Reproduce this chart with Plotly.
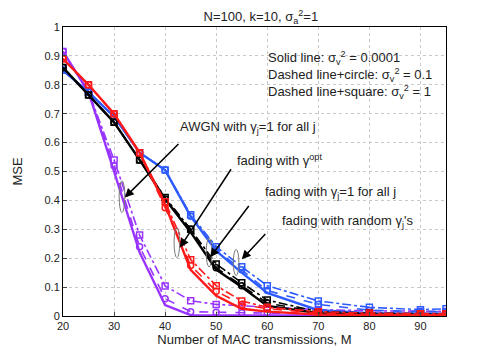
import plotly.graph_objects as go

# Number of MAC transmissions
M = [20, 25, 30, 35, 40, 45, 50, 55, 60, 70, 80, 90, 95]

# AWGN with gamma_j = 1 (purple)
awgn_solid = [0.915, 0.775, 0.50, 0.22, 0.038, 0.003, 0.002, 0.002, 0.002, 0.002, 0.002, 0.002, 0.002]
awgn_circle = [0.915, 0.775, 0.52, 0.24, 0.06, 0.015, 0.013, 0.011, 0.01, 0.008, 0.007, 0.007, 0.007]
awgn_square = [0.915, 0.775, 0.54, 0.28, 0.104, 0.053, 0.04, 0.035, 0.03, 0.022, 0.018, 0.016, 0.016]

# fading with gamma opt (red)
opt_solid = [0.89, 0.80, 0.70, 0.565, 0.385, 0.16, 0.07, 0.025, 0.015, 0.005, 0.003, 0.003, 0.003]
opt_circle = [0.89, 0.80, 0.70, 0.565, 0.375, 0.175, 0.086, 0.04, 0.025, 0.01, 0.006, 0.005, 0.005]
opt_square = [0.89, 0.80, 0.70, 0.565, 0.395, 0.195, 0.105, 0.052, 0.03, 0.015, 0.01, 0.008, 0.008]

# fading with gamma_j = 1 (black)
one_solid = [0.86, 0.765, 0.67, 0.54, 0.405, 0.29, 0.16, 0.10, 0.035, 0.01, 0.005, 0.004, 0.004]
one_circle = [0.86, 0.765, 0.67, 0.54, 0.405, 0.30, 0.167, 0.105, 0.045, 0.012, 0.008, 0.006, 0.006]
one_square = [0.86, 0.765, 0.67, 0.54, 0.41, 0.30, 0.18, 0.115, 0.055, 0.015, 0.01, 0.008, 0.008]

# fading with random gammas (blue)
rnd_solid = [0.85, 0.775, 0.69, 0.565, 0.505, 0.345, 0.225, 0.15, 0.08, 0.02, 0.01, 0.008, 0.008]
rnd_circle = [0.85, 0.775, 0.69, 0.565, 0.505, 0.345, 0.23, 0.16, 0.088, 0.04, 0.02, 0.015, 0.015]
rnd_square = [0.85, 0.775, 0.69, 0.565, 0.505, 0.35, 0.24, 0.17, 0.105, 0.052, 0.03, 0.022, 0.025]

colors = {"awgn": "#9933FF", "opt": "#FF1A1A", "one": "#000000", "rnd": "#2E5BFF"}

series = [
    ("awgn", awgn_solid, awgn_circle, awgn_square),
    ("rnd", rnd_solid, rnd_circle, rnd_square),
    ("one", one_solid, one_circle, one_square),
    ("opt", opt_solid, opt_circle, opt_square),
]

fig = go.Figure()
for key, solid, circ, sq in series:
    c = colors[key]
    fig.add_trace(go.Scatter(x=M, y=solid, mode="lines", line=dict(color=c, width=2.4)))
    fig.add_trace(go.Scatter(x=M, y=circ, mode="lines+markers", line=dict(color=c, width=1.6, dash="dash"),
                             marker=dict(symbol="circle-open", size=6, color=c, line=dict(width=1.5))))
    fig.add_trace(go.Scatter(x=M, y=sq, mode="lines+markers", line=dict(color=c, width=1.6, dash="dashdot"),
                             marker=dict(symbol="square-open", size=6, color=c, line=dict(width=1.5))))

# labels with arrows: (text, text x, text y, tail x, tail y, head x, head y)
labels = [
    ("AWGN with γ<sub>j</sub>=1 for all j", 42.6, 0.652, 42.9, 0.60, 32.1, 0.41),
    ("fading with γ<sup>opt</sup>", 53.7, 0.541, 53.1, 0.513, 42.9, 0.237),
    ("fading with γ<sub>j</sub>=1 for all j", 59.2, 0.427, 56.6, 0.386, 48.8, 0.203),
    ("fading with random γ<sub>j</sub>'s", 62.5, 0.327, 59.9, 0.289, 55.0, 0.196),
]
for txt, tx, ty, ax, ay, hx, hy in labels:
    fig.add_annotation(x=tx, y=ty, text=txt, showarrow=False, xanchor="left", yanchor="middle",
                       font=dict(size=13, color="#222"))
    fig.add_annotation(x=hx, y=hy, ax=ax, ay=ay, axref="x", ayref="y", text="", showarrow=True,
                       arrowhead=2, arrowsize=1.2, arrowwidth=1.5, arrowcolor="black")

# ellipses marking curve groups: (x center, y center, half height)
ellipses = [(31.55, 0.413, 0.055), (42.3, 0.254, 0.052), (48.6, 0.22, 0.05), (53.9, 0.185, 0.045)]
for cx, cy, hh in ellipses:
    fig.add_shape(type="circle", x0=cx - 0.55, x1=cx + 0.55, y0=cy - hh, y1=cy + hh,
                  line=dict(color="#777", width=1))

legend_lines = [
    "Solid line: σ<sub>v</sub><sup>2</sup> = 0.0001",
    "Dashed line+circle: σ<sub>v</sub><sup>2</sup> = 0.1",
    "Dashed line+square: σ<sub>v</sub><sup>2</sup> = 1",
]
fig.add_annotation(x=0.53, y=0.93, xref="paper", yref="paper", xanchor="left", yanchor="top",
                   text="<br>".join(legend_lines), showarrow=False, align="left",
                   font=dict(size=13, color="#222"))

fig.update_layout(
    width=491, height=355,
    margin=dict(l=55, r=53, t=19, b=47),
    paper_bgcolor="white", plot_bgcolor="white",
    showlegend=False,
    font=dict(family="Liberation Sans, Arial, sans-serif", size=11, color="#222"),
    title=dict(text="N=100, k=10, σ<sub>a</sub><sup>2</sup>=1", x=0.515, xanchor="center",
               y=0.988, yanchor="top", font=dict(size=13)),
)
fig.update_xaxes(range=[20, 95], tickvals=[20, 30, 40, 50, 60, 70, 80, 90],
                 title=dict(text="Number of MAC transmissions, M", font=dict(size=13), standoff=2),
                 showline=True, linecolor="black", mirror=True, ticks="inside", ticklen=4,
                 showgrid=True, gridcolor="#c8c8c8", griddash="dot", zeroline=False)
fig.update_yaxes(range=[0, 1], tickvals=[0, 0.1, 0.2, 0.3, 0.4, 0.5, 0.6, 0.7, 0.8, 0.9, 1],
                 ticktext=["0", "0.1", "0.2", "0.3", "0.4", "0.5", "0.6", "0.7", "0.8", "0.9", "1"],
                 title=dict(text="MSE", font=dict(size=13), standoff=18), automargin=False,
                 showline=True, linecolor="black", mirror=True, ticks="inside", ticklen=4,
                 showgrid=True, gridcolor="#c8c8c8", griddash="dot", zeroline=False)

fig.write_html("out.html")
